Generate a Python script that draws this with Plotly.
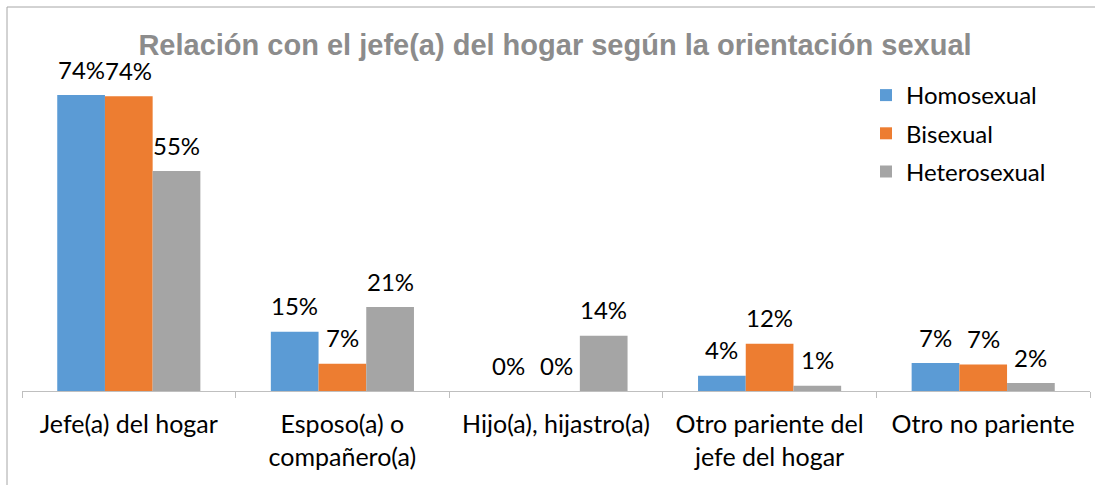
import plotly.graph_objects as go

categories = ["Jefe(a) del hogar", "Esposo(a) o<br>compañero(a)", "Hijo(a), hijastro(a)",
              "Otro pariente del<br>jefe del hogar", "Otro no pariente"]
homosexual = [0.740, 0.148, 0.0, 0.038, 0.070]
bisexual = [0.737, 0.068, 0.0, 0.118, 0.066]
heterosexual = [0.550, 0.210, 0.138, 0.013, 0.020]

series = [("Homosexual", homosexual, "#5B9BD5"),
          ("Bisexual", bisexual, "#ED7D31"),
          ("Heterosexual", heterosexual, "#A5A5A5")]

FONT = "Lato"
FS = 24
W, H = 1095, 485
ml, mr, mt, mb = 22, 5, 71, 94
pw = W - ml - mr
ph = H - mt - mb
BARGAP = 0.33
cat_px = pw / len(categories)
bar_px = cat_px * (1 - BARGAP) / len(series)

fig = go.Figure()
for i, (name, vals, col) in enumerate(series):
    fig.add_trace(go.Bar(
        x=categories, y=vals, name=name, marker_color=col, marker_line_width=0,
        legendgroup=name,
    ))
    shift = (i - (len(series) - 1) / 2) * bar_px
    for c, v in zip(categories, vals):
        fig.add_annotation(x=c, y=v, xref="x", yref="y", text=f"{v:.0%}",
                           showarrow=False, xshift=shift, yshift=26,
                           yanchor="middle", xanchor="center",
                           font=dict(family=FONT, size=FS, color="#000000"))

fig.update_layout(
    width=W, height=H,
    margin=dict(l=ml, r=mr, t=mt, b=mb, autoexpand=False),
    paper_bgcolor="white", plot_bgcolor="white",
    barmode="group", bargap=BARGAP, bargroupgap=0,
    title=dict(text="<b>Relación con el jefe(a) del hogar según la orientación sexual</b>",
               x=555 / W, xref="container", xanchor="center",
               y=1 - 45 / H, yref="container", yanchor="middle",
               font=dict(family="Liberation Sans", size=29, color="#8C8C8C")),
    legend=dict(x=(866 - ml) / pw, y=(H - mb - 73) / ph, xanchor="left", yanchor="top",
                font=dict(family=FONT, size=FS, color="#000000"),
                bgcolor="rgba(0,0,0,0)", traceorder="grouped", tracegroupgap=4),
    showlegend=True,
    xaxis=dict(showline=True, linecolor="#BFBFBF", linewidth=1, ticks="outside",
               tickson="boundaries", ticklen=6, tickcolor="#BFBFBF", automargin=False,
               ticklabelstandoff=11,
               tickfont=dict(family=FONT, size=25, color="#000000"), showgrid=False),
    yaxis=dict(range=[0, 0.8], visible=False, showgrid=False, automargin=False),
)

# chart border (left and top edges visible in the frame)
bx0 = (7 - ml) / pw
by1 = (H - mb - 7) / ph
fig.add_shape(type="line", xref="paper", yref="paper",
              x0=bx0, x1=(W - ml) / pw, y0=by1, y1=by1,
              line=dict(color="#A6A6A6", width=1), layer="below")
fig.add_shape(type="line", xref="paper", yref="paper",
              x0=bx0, x1=bx0, y0=by1, y1=-mb / ph,
              line=dict(color="#A6A6A6", width=1), layer="below")

fig.write_html("out.html", config={"displayModeBar": False},
               post_script="document.body.style.margin='0';"
                           "document.body.style.overflow='hidden';"
                           "document.documentElement.style.overflow='hidden';")
